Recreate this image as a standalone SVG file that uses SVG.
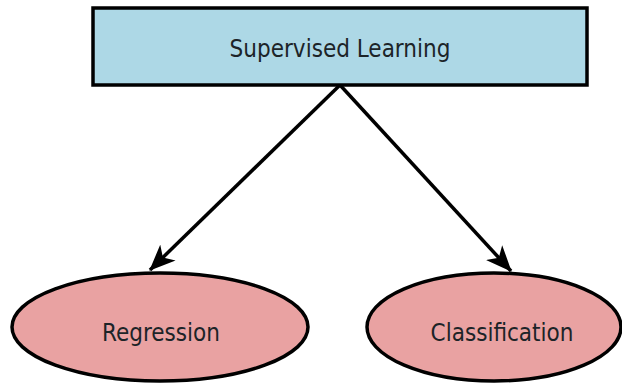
<svg xmlns="http://www.w3.org/2000/svg" width="622" height="385" viewBox="0 0 622 385">
  <style>
    .lbl { font-family: "DejaVu Sans Condensed", "DejaVu Sans", Verdana, sans-serif; font-size: 24px; fill: #1c2428; text-anchor: middle; }
    .box { fill: #ADD8E6; stroke: #000; stroke-width: 3.5; }
    .oval { fill: #E9A2A2; stroke: #000; stroke-width: 3.5; }
    .edge { stroke: #000; stroke-width: 3.5; fill: none; }
  </style>
  <defs>
    <marker id="arrow" viewBox="0 0 26 22" refX="25" refY="11" markerWidth="26" markerHeight="22" markerUnits="userSpaceOnUse" orient="auto">
      <path d="M0,0 L26,11 L0,22 L7,11 Z" fill="#000"/>
    </marker>
  </defs>
  <rect width="622" height="385" fill="#fff"/>
  <g id="connectors">
    <line class="edge" x1="340" y1="85" x2="150" y2="270" marker-end="url(#arrow)"/>
    <line class="edge" x1="340" y1="85" x2="511" y2="271" marker-end="url(#arrow)"/>
  </g>
  <g id="supervised">
    <rect class="box" x="93" y="8" width="494" height="77"/>
    <text class="lbl" x="340" y="57">Supervised Learning</text>
  </g>
  <g id="regression">
    <ellipse class="oval" cx="160" cy="327" rx="148" ry="54"/>
    <text class="lbl" x="161" y="341">Regression</text>
  </g>
  <g id="classification">
    <ellipse class="oval" cx="494" cy="327" rx="127" ry="54"/>
    <text class="lbl" x="502" y="341">Classification</text>
  </g>
</svg>
